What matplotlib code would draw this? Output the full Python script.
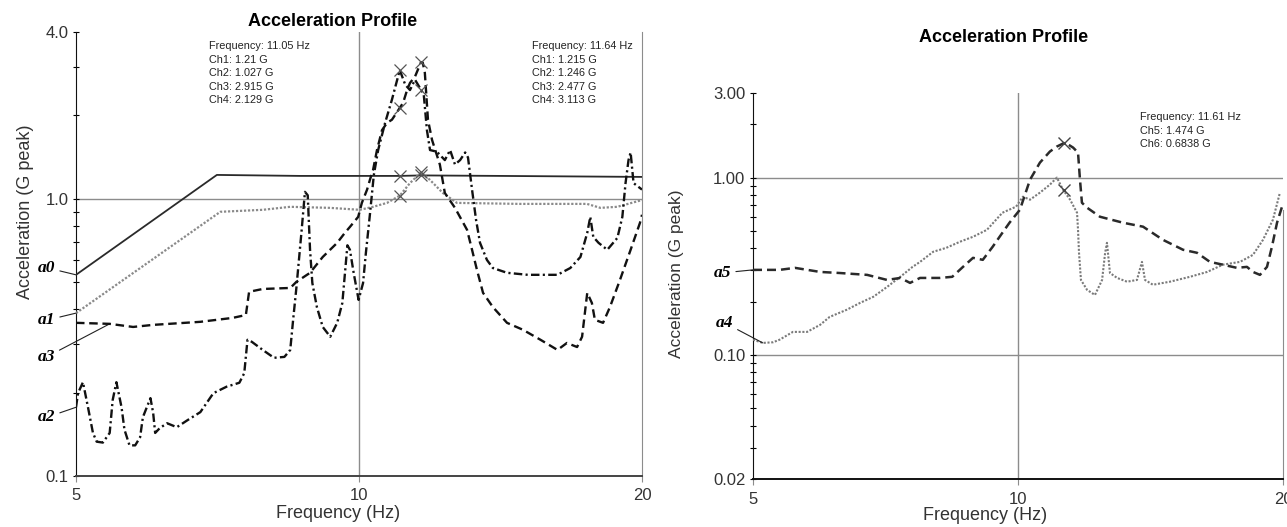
import matplotlib.pyplot as plt
import matplotlib.ticker as mticker
import numpy as np

plt.rcParams['font.family'] = ['Liberation Sans', 'DejaVu Sans']

# ---------------- left chart: Ch1..Ch4 ----------------
ch1_freq = [5.0, 7.06, 8.65, 11.05, 11.64, 14.12, 20.0]
ch1_acc = [0.532, 1.22, 1.21, 1.21, 1.215, 1.21, 1.20]

ch2_freq = [5.0, 7.12, 7.90, 8.45, 9.31, 10.02, 10.35, 10.71, 11.05, 11.33,
            11.64, 11.90, 12.28, 12.71, 14.83, 17.48, 18.06, 18.82, 20.0]
ch2_acc = [0.387, 0.898, 0.913, 0.936, 0.928, 0.913, 0.936, 0.967, 1.027, 1.14,
           1.246, 1.17, 1.05, 0.967, 0.959, 0.959, 0.928, 0.936, 0.99]

ch3_freq = [5.00, 5.025, 5.086, 5.149, 5.212, 5.26, 5.34, 5.43, 5.47, 5.52,
            5.59, 5.63, 5.70, 5.78, 5.85, 5.89, 6.00, 6.04, 6.07, 6.14,
            6.25, 6.40, 6.57, 6.78, 7.00, 7.23, 7.46, 7.55, 7.61, 7.69,
            7.90, 8.12, 8.33, 8.45, 8.51, 8.58, 8.69, 8.76, 8.82, 8.87,
            8.92, 9.02, 9.15, 9.32, 9.48, 9.60, 9.72, 9.78, 9.87, 9.99,
            10.10, 10.17, 10.27, 10.37, 10.48, 10.66, 10.84, 11.05, 11.20, 11.33,
            11.47, 11.64, 11.72, 11.81, 11.90, 12.10, 12.34, 12.50, 12.65, 12.81,
            12.97, 13.06, 13.19, 13.32, 13.45, 13.68, 13.88, 14.37, 15.12, 16.26,
            16.78, 17.20, 17.49, 17.62, 17.75, 17.98, 18.37, 18.83, 19.06, 19.21,
            19.35, 19.45, 19.59, 20.0]
ch3_acc = [0.177, 0.199, 0.218, 0.177, 0.143, 0.133, 0.132, 0.143, 0.188, 0.218,
           0.177, 0.147, 0.129, 0.129, 0.138, 0.163, 0.191, 0.169, 0.143, 0.149,
           0.155, 0.150, 0.159, 0.170, 0.199, 0.210, 0.217, 0.235, 0.310, 0.305,
           0.285, 0.267, 0.269, 0.285, 0.366, 0.481, 0.773, 1.06, 1.03, 0.655,
           0.497, 0.407, 0.345, 0.318, 0.357, 0.421, 0.68, 0.655, 0.541, 0.432,
           0.497, 0.638, 0.876, 1.22, 1.50, 1.88, 2.28, 2.915, 2.58, 2.47,
           2.69, 2.477, 2.37, 1.77, 1.50, 1.48, 1.38, 1.50, 1.33, 1.38,
           1.47, 1.41, 1.08, 0.840, 0.694, 0.602, 0.563, 0.541, 0.532, 0.532,
           0.563, 0.617, 0.754, 0.861, 0.729, 0.694, 0.655, 0.723, 0.861, 1.14,
           1.38, 1.47, 1.14, 1.08]

ch4_freq = [5.00, 5.43, 5.75, 6.04, 6.78, 7.34, 7.58, 7.64, 7.90, 8.45,
            8.58, 8.87, 9.15, 9.48, 9.66, 9.78, 9.98, 10.07, 10.20, 10.27,
            10.35, 10.45, 10.58, 10.71, 10.84, 10.98, 11.05, 11.14, 11.25, 11.33,
            11.47, 11.64, 11.69, 11.75, 11.84, 11.96, 12.19, 12.34, 12.65, 13.03,
            13.19, 13.35, 13.55, 13.88, 14.37, 14.94, 15.60, 16.26, 16.64, 17.06,
            17.27, 17.49, 17.69, 17.82, 18.18, 18.49, 18.95, 19.45, 19.90, 20.0]
ch4_acc = [0.357, 0.354, 0.345, 0.351, 0.360, 0.372, 0.381, 0.462, 0.473, 0.477,
           0.502, 0.541, 0.617, 0.694, 0.754, 0.792, 0.861, 0.967, 1.08, 1.17,
           1.27, 1.50, 1.77, 1.88, 1.93, 2.06, 2.129, 2.22, 2.47, 2.62,
           2.76, 3.113, 3.10, 2.85, 1.93, 1.63, 1.33, 1.05, 0.928, 0.773,
           0.655, 0.554, 0.458, 0.407, 0.357, 0.337, 0.310, 0.285, 0.302, 0.292,
           0.318, 0.458, 0.421, 0.366, 0.357, 0.407, 0.510, 0.655, 0.819, 0.876]

# cursor readouts (left)
cursor_freqs = [11.05, 11.64]
cursor_vals = [[1.21, 1.027, 2.915, 2.129],
               [1.215, 1.246, 2.477, 3.113]]

# ---------------- right chart: Ch5, Ch6 ----------------
ch5_freq = [5.00, 5.36, 5.58, 5.96, 6.27, 6.74, 7.10, 7.35, 7.54, 7.74,
            8.15, 8.42, 8.66, 8.89, 9.12, 9.36, 9.53, 9.78, 10.05, 10.32,
            10.59, 10.87, 11.07, 11.31, 11.55, 11.70, 11.76, 11.82, 11.98, 12.39,
            13.16, 13.87, 14.61, 15.40, 15.97, 16.52, 17.09, 17.73, 18.20, 18.49,
            18.83, 19.18, 19.43, 19.69, 19.95]
ch5_acc = [0.302, 0.302, 0.310, 0.294, 0.290, 0.283, 0.265, 0.272, 0.255, 0.272,
           0.272, 0.276, 0.314, 0.353, 0.344, 0.408, 0.464, 0.557, 0.659, 0.974,
           1.215, 1.403, 1.497, 1.577, 1.477, 1.384, 0.974, 0.722, 0.677, 0.602,
           0.557, 0.529, 0.446, 0.392, 0.377, 0.335, 0.323, 0.310, 0.314, 0.294,
           0.283, 0.314, 0.408, 0.557, 0.686]

ch6_freq = [5.00, 5.13, 5.27, 5.36, 5.55, 5.76, 5.96, 6.11, 6.39, 6.62,
            6.85, 7.10, 7.35, 7.59, 7.74, 8.01, 8.29, 8.59, 8.89, 9.22,
            9.40, 9.60, 9.95, 10.13, 10.32, 10.59, 10.87, 11.07, 11.25, 11.46,
            11.67, 11.70, 11.73, 11.79, 11.98, 12.23, 12.46, 12.56, 12.62, 12.72,
            12.96, 13.30, 13.65, 13.83, 13.94, 14.23, 14.88, 15.68, 16.40, 17.09,
            17.87, 18.49, 18.98, 19.48, 19.84]
ch6_acc = [0.122, 0.117, 0.118, 0.122, 0.135, 0.135, 0.148, 0.164, 0.180, 0.197,
           0.213, 0.242, 0.276, 0.314, 0.335, 0.382, 0.402, 0.435, 0.464, 0.508,
           0.565, 0.634, 0.686, 0.781, 0.751, 0.823, 0.913, 1.0, 0.855, 0.751,
           0.634, 0.508, 0.377, 0.265, 0.233, 0.218, 0.265, 0.377, 0.429, 0.290,
           0.272, 0.259, 0.265, 0.335, 0.265, 0.249, 0.259, 0.276, 0.294, 0.323,
           0.335, 0.367, 0.446, 0.579, 0.823]

right_readout_freq = 11.61
right_readout_vals = [1.474, 0.6838]
right_marker_freq = 11.28
right_marker_vals = [1.57, 0.85]

freq_ticks = [5, 10, 20]
freq_labels = ['5', '10', '20']
left_yticks = [0.1, 1.0, 4.0]
left_ylabels = ['0.1', '1.0', '4.0']
right_yticks = [0.02, 0.1, 1.0, 3.0]
right_ylabels = ['0.02', '0.10', '1.00', '3.00']

W, H = 1287, 527
GRID = '#8c8c8c'
TXT = '#333333'


def fx(px):
    return px / W


def fy(py):
    return 1 - py / H


def style_axes(ax, ylim, yticks, ylabels):
    ax.set_xscale('log')
    ax.set_yscale('log')
    ax.set_xlim(5, 20)
    ax.set_ylim(*ylim)
    ax.xaxis.set_major_locator(mticker.FixedLocator(freq_ticks))
    ax.xaxis.set_major_formatter(mticker.FixedFormatter(freq_labels))
    ax.xaxis.set_minor_locator(mticker.NullLocator())
    ax.yaxis.set_major_locator(mticker.FixedLocator(yticks))
    ax.yaxis.set_major_formatter(mticker.FixedFormatter(ylabels))
    ax.yaxis.set_minor_locator(mticker.LogLocator(base=10, subs=np.arange(2, 10), numticks=20))
    ax.yaxis.set_minor_formatter(mticker.NullFormatter())
    ax.spines['top'].set_visible(False)
    ax.spines['right'].set_color(GRID)
    ax.spines['left'].set_color('#111111')
    ax.spines['bottom'].set_color('#444444')
    ax.spines['bottom'].set_linewidth(1.4)
    ax.tick_params(axis='y', which='both', direction='inout', length=5, width=0.8,
                   labelsize=12, labelcolor=TXT, pad=3)
    ax.tick_params(axis='x', direction='out', length=4, width=0.8, color=GRID,
                   labelsize=12, labelcolor=TXT, pad=5)


def a_label(ax, text, xy, offset):
    ax.annotate(text, xy=xy, xytext=offset, textcoords='offset pixels',
                ha='center', va='center', fontsize=12.5,
                family='Liberation Serif', style='italic', weight='bold',
                arrowprops=dict(arrowstyle='-', color='#222222', lw=0.8,
                                shrinkA=1, shrinkB=0),
                annotation_clip=False)


def readout(px, py, freq, names, vals):
    lines = [f'Frequency: {freq:.2f} Hz']
    lines += [f'{n}: {v:g} G' for n, v in zip(names, vals)]
    fig.text(fx(px), fy(py), '\n'.join(lines), ha='left', va='top',
             fontsize=7.8, color='#222222', linespacing=1.45)


fig = plt.figure(figsize=(W / 100, H / 100), dpi=100)
ax1 = fig.add_axes([fx(76), fy(476), (642 - 76) / W, (476 - 32) / H])
ax2 = fig.add_axes([fx(753), fy(479), (1283 - 753) / W, (479 - 93) / H])

# ---- left ----
style_axes(ax1, (0.1, 4.0), left_yticks, left_ylabels)
ax1.axhline(1.0, color=GRID, lw=1, zorder=1)
ax1.axvline(10, color=GRID, lw=1, zorder=1)

ax1.plot(ch1_freq, ch1_acc, color='#2a2a2a', lw=1.3, zorder=3)
ax1.plot(ch2_freq, ch2_acc, color='#8a8a8a', lw=1.6, ls=(0, (1, 0.8)), zorder=3)
ax1.plot(ch3_freq, ch3_acc, color='#111111', lw=1.7, ls=(0, (3.6, 1.4, 0.9, 1.4)), zorder=4)
ax1.plot(ch4_freq, ch4_acc, color='#111111', lw=1.7, ls=(0, (3.6, 2.0)), zorder=4)

for f, vals in zip(cursor_freqs, cursor_vals):
    ax1.plot([f] * len(vals), vals, ls='none', marker='x', ms=9, mew=0.9,
             color='#555555', zorder=5)

a_label(ax1, 'a0', (ch1_freq[0], ch1_acc[0]), (-29, 7))
a_label(ax1, 'a1', (ch2_freq[0], ch2_acc[0]), (-29, -7))
a_label(ax1, 'a3', (ch4_freq[1], ch4_acc[1]), (-63, -33))
a_label(ax1, 'a2', (ch3_freq[0], ch3_acc[0]), (-29, -10))

# ---- right ----
style_axes(ax2, (0.02, 3.0), right_yticks, right_ylabels)
ax2.spines['right'].set_bounds(0.02, 0.66)
ax2.spines['bottom'].set_color('#111111')
ax2.axhline(1.0, color=GRID, lw=1, zorder=1)
ax2.axhline(0.1, color=GRID, lw=1, zorder=1)
ax2.axvline(10, color=GRID, lw=1, zorder=1)

ax2.plot(ch5_freq, ch5_acc, color='#2a2a2a', lw=1.8, ls=(0, (3.6, 2.0)), zorder=4)
ax2.plot(ch6_freq, ch6_acc, color='#7a7a7a', lw=1.5, ls=(0, (1, 0.8)), zorder=3)
ax2.plot([right_marker_freq] * 2, right_marker_vals, ls='none', marker='x', ms=9,
         mew=1.0, color='#444444', zorder=5)

a_label(ax2, 'a5', (ch5_freq[0], ch5_acc[0]), (-30, -3))
a_label(ax2, 'a4', (ch6_freq[1], ch6_acc[1]), (-38, 20))

# ---- texts ----
fig.text(fx(333), fy(22), 'Acceleration Profile', ha='center', va='center',
         fontsize=13, fontweight='bold')
fig.text(fx(1004), fy(37), 'Acceleration Profile', ha='center', va='center',
         fontsize=13, fontweight='bold')
fig.text(fx(338), fy(513), 'Frequency (Hz)', ha='center', va='center',
         fontsize=13, color=TXT)
fig.text(fx(985), fy(515), 'Frequency (Hz)', ha='center', va='center',
         fontsize=13, color=TXT)
fig.text(fx(26), fy(212), 'Acceleration (G peak)', ha='center', va='center',
         rotation=90, fontsize=13, color=TXT)
fig.text(fx(677), fy(274), 'Acceleration (G peak)', ha='center', va='center',
         rotation=90, fontsize=12.5, color=TXT)

readout(209, 41, cursor_freqs[0], ['Ch1', 'Ch2', 'Ch3', 'Ch4'], cursor_vals[0])
readout(532, 41, cursor_freqs[1], ['Ch1', 'Ch2', 'Ch3', 'Ch4'], cursor_vals[1])
readout(1140, 112, right_readout_freq, ['Ch5', 'Ch6'], right_readout_vals)

fig.savefig('out.png', dpi=100)
